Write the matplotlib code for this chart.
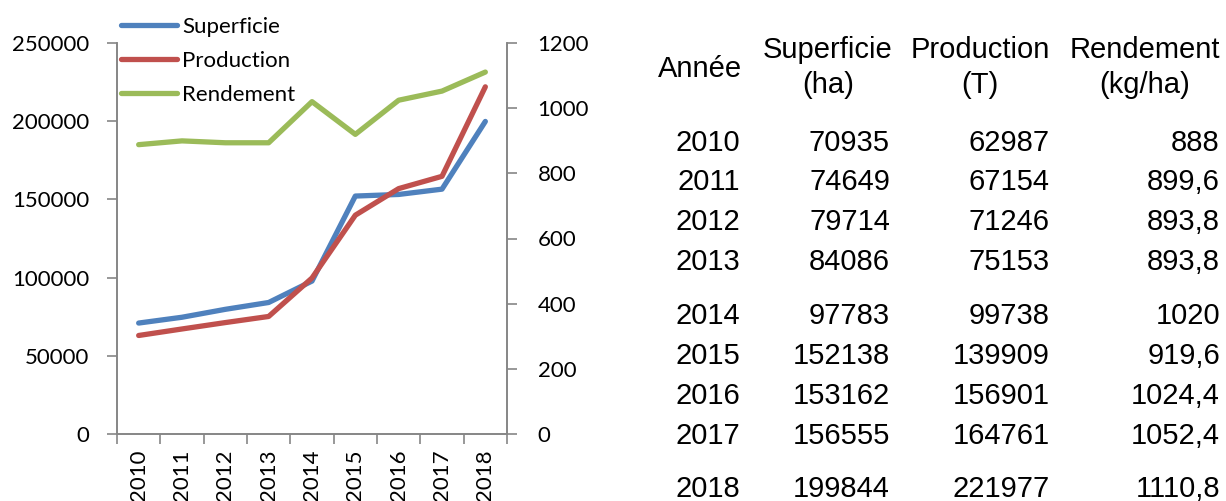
import matplotlib
matplotlib.use("Agg")
import matplotlib.pyplot as plt
import numpy as np

# ── data ────────────────────────────────────────────────────────────────
years       = ["2010", "2011", "2012", "2013", "2014", "2015", "2016", "2017", "2018"]
superficie  = [70935, 74649, 79714, 84086, 97783, 152138, 153162, 156555, 199844]
production  = [62987, 67154, 71246, 75153, 99738, 139909, 156901, 164761, 221977]
rendement   = [888, 899.6, 893.8, 893.8, 1020, 919.6, 1024.4, 1052.4, 1110.8]
rendement_txt = ["888", "899,6", "893,8", "893,8", "1020", "919,6", "1024,4", "1052,4", "1110,8"]

BLUE  = "#4F81BD"
RED   = "#C0504D"
GREEN = "#9BBB59"
AXIS  = "#868686"
CHART_FONT = ["Lato", "DejaVu Sans"]
TABLE_FONT = ["Liberation Sans", "DejaVu Sans"]

W, H = 1226, 501
fig = plt.figure(figsize=(W / 100, H / 100), dpi=100)

# ── chart ───────────────────────────────────────────────────────────────
ax = fig.add_axes([117 / W, 1 - 434 / H, (507 - 117) / W, (434 - 43) / H])
ax2 = ax.twinx()
x = np.arange(len(years))

l1, = ax.plot(x, superficie, color=BLUE, lw=3.8, solid_capstyle="round")
l2, = ax.plot(x, production, color=RED, lw=3.8, solid_capstyle="round")
l3, = ax2.plot(x, rendement, color=GREEN, lw=3.8, solid_capstyle="round")

ax.set_xlim(-0.5, len(years) - 0.5)
ax.set_ylim(0, 250000)
ax.set_yticks(np.arange(0, 250001, 50000))
ax2.set_ylim(0, 1200)
ax2.set_yticks(np.arange(0, 1201, 200))

ax.set_xticks(x)
ax.set_xticklabels(years, rotation=90, fontsize=16, family=CHART_FONT)
ax.set_xticks(np.arange(-0.5, len(years)), minor=True)
ax.tick_params(axis="x", which="major", length=0, pad=11)
ax.tick_params(axis="x", which="minor", length=7, color=AXIS, width=1.2)
ax.tick_params(axis="y", length=7, color=AXIS, width=1.2, pad=13, labelsize=16)
ax2.tick_params(axis="y", length=7, color=AXIS, width=1.2, pad=15, labelsize=16)
for lab in ax.get_yticklabels() + ax2.get_yticklabels():
    lab.set_family(CHART_FONT)

for a in (ax, ax2):
    a.spines["top"].set_visible(False)
    for s in ("left", "right", "bottom"):
        a.spines[s].set_color(AXIS)
        a.spines[s].set_linewidth(1.2)
ax.patch.set_visible(False)

fig.legend([l1, l2, l3], ["Superficie", "Production", "Rendement"],
           loc="upper left", bbox_to_anchor=(121 / W, 1 - 17 / H),
           frameon=False, handlelength=2.5, handletextpad=0.25,
           labelspacing=0.62, borderaxespad=0, borderpad=0,
           prop={"family": CHART_FONT, "size": 16})

# ── table ───────────────────────────────────────────────────────────────
tk = dict(family=TABLE_FONT, fontsize=21, color="black")
fig.text(700 / W, 1 - 69 / H, "Année", ha="center", va="center", **tk)
headers = [("Superficie", "(ha)", 828), ("Production", "(T)", 980), ("Rendement", "(kg/ha)", 1145)]
for top, bottom, cx in headers:
    fig.text(cx / W, 1 - 50 / H, top, ha="center", va="center", **tk)
    fig.text(cx / W, 1 - 85 / H, bottom, ha="center", va="center", **tk)

row_y = [143, 182, 222, 262, 316, 356, 396, 436, 489]
for i, ry in enumerate(row_y):
    yy = 1 - ry / H
    fig.text(740 / W, yy, years[i], ha="right", va="center", **tk)
    fig.text(890 / W, yy, str(superficie[i]), ha="right", va="center", **tk)
    fig.text(1050 / W, yy, str(production[i]), ha="right", va="center", **tk)
    fig.text(1220 / W, yy, rendement_txt[i], ha="right", va="center", **tk)

fig.savefig("out.png", dpi=100)
